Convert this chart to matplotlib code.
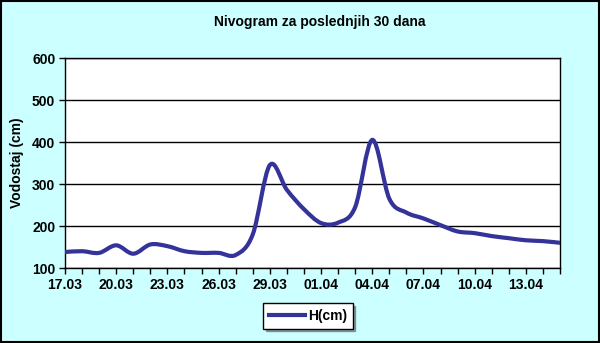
import numpy as np
import matplotlib
matplotlib.use("Agg")
import matplotlib.pyplot as plt
from matplotlib.path import Path
from matplotlib.patches import PathPatch, Rectangle

plt.rcParams['font.family'] = ['Liberation Sans', 'DejaVu Sans']

dates = ["17.03", "18.03", "19.03", "20.03", "21.03", "22.03", "23.03", "24.03",
         "25.03", "26.03", "27.03", "28.03", "29.03", "30.03", "31.03", "01.04",
         "02.04", "03.04", "04.04", "05.04", "06.04", "07.04", "08.04", "09.04",
         "10.04", "11.04", "12.04", "13.04", "14.04", "15.04"]
h_cm = [138, 140, 136, 154, 134, 156, 152, 140, 136, 136,
        131, 180, 345, 286, 240, 207, 208, 245, 405, 265,
        232, 218, 202, 187, 183, 176, 171, 166, 164, 160]

fig = plt.figure(figsize=(6, 3.43), dpi=100, facecolor="#CCFFFF")
ax = fig.add_axes([65/600, 1-268/343, 495/600, 210/343])
ax.set_facecolor("white")

# smoothed line (Excel-like Bezier through the points)
x = np.arange(len(h_cm), dtype=float)
y = np.array(h_cm, dtype=float)
px = np.concatenate([[x[0]], x, [x[-1]]])
py = np.concatenate([[y[0]], y, [y[-1]]])
verts = [(x[0], y[0])]
codes = [Path.MOVETO]
for i in range(1, len(px) - 2):
    c1 = (px[i] + (px[i+1] - px[i-1]) / 6, py[i] + (py[i+1] - py[i-1]) / 6)
    c2 = (px[i+1] - (px[i+2] - px[i]) / 6, py[i+1] - (py[i+2] - py[i]) / 6)
    verts += [c1, c2, (px[i+1], py[i+1])]
    codes += [Path.CURVE4] * 3
ax.add_patch(PathPatch(Path(verts, codes), facecolor="none", edgecolor="#333399",
                       lw=3, capstyle="round", joinstyle="round", zorder=3))
# empty line for the legend handle
ax.plot([], [], color="#333399", lw=3, label="H(cm)")

ax.set_xlim(0, len(h_cm) - 1)
ax.set_ylim(100, 600)
ax.set_yticks(range(100, 601, 100))
ax.set_xticks(x)
ax.set_xticklabels([d if i % 3 == 0 else "" for i, d in enumerate(dates)])
ax.grid(axis="y", color="black", lw=1)
ax.set_axisbelow(True)
for s in ax.spines.values():
    s.set_color("black")
    s.set_linewidth(1)
ax.tick_params(direction="out", length=4, width=1, color="black", pad=3)
for lab in ax.get_xticklabels() + ax.get_yticklabels():
    lab.set_fontsize(10)
    lab.set_fontweight("bold")

ax.set_ylabel("Vodostaj (cm)", fontsize=10, fontweight="bold", labelpad=6)
fig.text(320/600, 1-22/343, "Nivogram za poslednjih 30 dana", ha="center", va="center",
         fontsize=10, fontweight="bold")

leg = fig.legend(loc="center", bbox_to_anchor=(308/600, 1-316/343), frameon=True,
                 fancybox=False, shadow=True, handlelength=2.6,
                 handletextpad=0.2, borderpad=0.4, prop={"weight": "bold", "size": 10})
leg.get_frame().set_edgecolor("black")
leg.get_frame().set_linewidth(1)

fig.add_artist(Rectangle((0.001, 0.002), 0.997, 0.995, transform=fig.transFigure,
                         fill=False, edgecolor="black", lw=1.5))

fig.savefig("out.png", dpi=100, facecolor=fig.get_facecolor())
